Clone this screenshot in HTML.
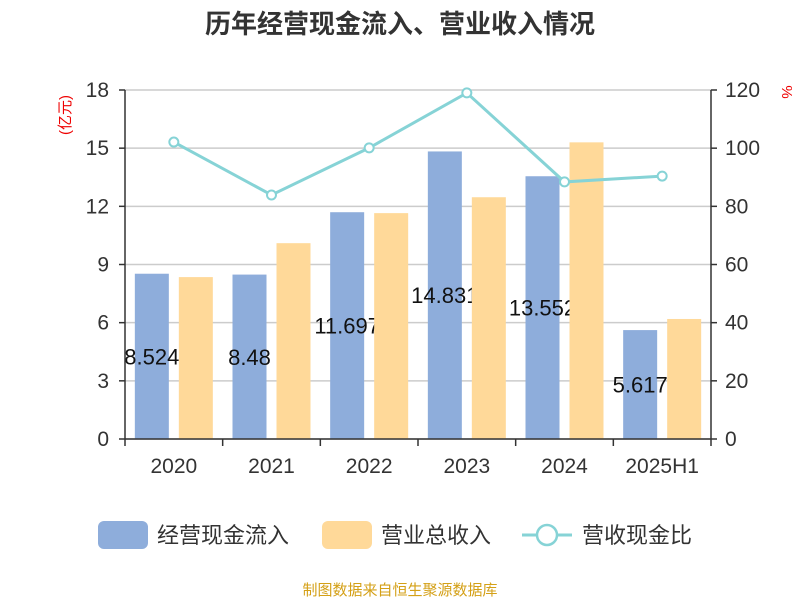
<!DOCTYPE html>
<html><head><meta charset="utf-8"><style>
body{margin:0;background:#fff;}
svg{display:block;font-family:"Liberation Sans","Noto Sans CJK SC",sans-serif;}
</style></head><body>
<svg id="chart" width="800" height="600" viewBox="0 0 800 600">
<text x="400" y="33" text-anchor="middle" font-size="26" font-weight="bold" fill="#333">历年经营现金流入、营业收入情况</text>
<text x="0" y="0" transform="translate(70,115) rotate(-90)" text-anchor="middle" font-size="15" fill="#e00">(亿元)</text>
<text x="0" y="0" transform="translate(782,92) rotate(90)" text-anchor="middle" font-size="15" fill="#e00">%</text>
<g id="grid"></g><g id="bars"></g><g id="axes"></g><g id="line"></g>
<g>
<rect x="98" y="521" width="50" height="28" rx="6" fill="#8eaddb"/>
<text x="157" y="543" font-size="22" fill="#333">经营现金流入</text>
<rect x="322" y="521" width="50" height="28" rx="6" fill="#ffd999"/>
<text x="381" y="543" font-size="22" fill="#333">营业总收入</text>
<line x1="522" y1="535" x2="572" y2="535" stroke="#86d3d6" stroke-width="3"/>
<circle cx="547" cy="535" r="10" fill="#fff" stroke="#86d3d6" stroke-width="2.5"/>
<text x="582" y="543" font-size="22" fill="#333">营收现金比</text>
</g>
<text x="400" y="595" text-anchor="middle" font-size="15" fill="#d4a017">制图数据来自恒生聚源数据库</text>
</svg>
<script>
const categories=["2020","2021","2022","2023","2024","2025H1"];
const cashInflow=[8.524,8.48,11.697,14.831,13.552,5.617];
const cashLabels=["8.524","8.48","11.697","14.831","13.552","5.617"];
const revenue=[8.35,10.1,11.65,12.47,15.3,6.19];
const ratio=[102.1,83.9,100.1,119,88.4,90.4];
const leftTicks=[0,3,6,9,12,15,18];
const rightTicks=[0,20,40,60,80,100,120];
const NS="http://www.w3.org/2000/svg";
const X0=125,X1=711,Y0=439,Y1=90;
const band=(X1-X0)/categories.length;
const yL=v=>Y0-(v/18)*(Y0-Y1);
const yR=v=>Y0-(v/120)*(Y0-Y1);
const xC=i=>X0+band*(i+0.5);
function mk(parent,tag,attrs){const e=document.createElementNS(NS,tag);for(const k in attrs)e.setAttribute(k,attrs[k]);document.getElementById(parent).appendChild(e);return e;}
leftTicks.forEach((t,i)=>{
 const g=mk("grid","line",{x1:X0,x2:X1,y1:yL(t),y2:yL(t),stroke:"#ccc","stroke-width":1.5});
 
 
 const tl=mk("axes","text",{x:X0-16,y:yL(t)+7,"text-anchor":"end","font-size":21,fill:"#333"});tl.textContent=t;
 
 
 const tk=mk("axes","line",{x1:X0-6,x2:X0,y1:yL(t),y2:yL(t),stroke:"#333","stroke-width":1.5});
 
 
});
rightTicks.forEach(t=>{
 const tl=mk("axes","text",{x:X1+14,y:yR(t)+7,"font-size":21,fill:"#333"});tl.textContent=t;
 
 
 const tk=mk("axes","line",{x1:X1,x2:X1+6,y1:yR(t),y2:yR(t),stroke:"#333","stroke-width":1.5});
 
 
});
let a=mk("axes","line",{x1:X0,x2:X0,y1:Y1,y2:Y0,stroke:"#333","stroke-width":1.5});


a=mk("axes","line",{x1:X1,x2:X1,y1:Y1,y2:Y0,stroke:"#333","stroke-width":1.5});


a=mk("axes","line",{x1:X0,x2:X1,y1:Y0,y2:Y0,stroke:"#333","stroke-width":1.5});


for(let i=0;i<=categories.length;i++){
 const tk=mk("axes","line",{x1:X0+band*i,x2:X0+band*i,y1:Y0,y2:Y0+7,stroke:"#333","stroke-width":1.5});
 
 
}
categories.forEach((c,i)=>{
 const tl=mk("axes","text",{x:xC(i),y:Y0+34,"text-anchor":"middle","font-size":21,fill:"#333"});tl.textContent=c;
 
 
 const b=mk("bars","rect",{x:xC(i)-39,y:yL(cashInflow[i]),width:34,height:Y0-yL(cashInflow[i]),fill:"#8eaddb"});
 
 
 const l=mk("bars","text",{x:xC(i)-22,y:(yL(cashInflow[i])+Y0)/2+8,"text-anchor":"middle","font-size":22,fill:"#111"});l.textContent=cashLabels[i];
 
 
});
categories.forEach((c,i)=>{
 const b=mk("bars","rect",{x:xC(i)+5,y:yL(revenue[i]),width:34,height:Y0-yL(revenue[i]),fill:"#ffd999"});
 
 
});
const pl=mk("line","polyline",{points:ratio.map((v,i)=>xC(i)+","+yR(v)).join(" "),fill:"none",stroke:"#86d3d6","stroke-width":3});


ratio.forEach((v,i)=>{
 const p=mk("line","circle",{cx:xC(i),cy:yR(v),r:4.5,fill:"#fff",stroke:"#86d3d6","stroke-width":2});
 
 
});
</script>
</body></html>
